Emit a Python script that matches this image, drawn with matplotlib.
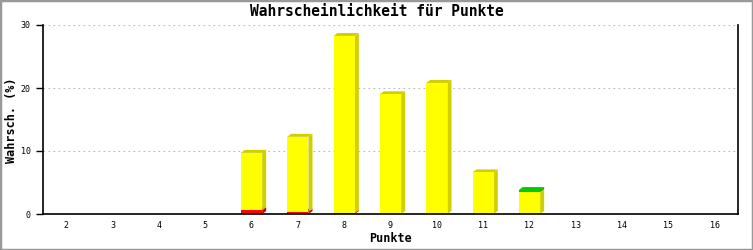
import matplotlib
matplotlib.use("Agg")
import matplotlib.pyplot as plt
from matplotlib.patches import Polygon, Rectangle
from matplotlib.transforms import IdentityTransform

categories = ["2", "3", "4", "5", "6", "7", "8", "9", "10", "11", "12", "13", "14", "15", "16"]
red_vals    = [0, 0, 0, 0, 0.6, 0.35, 0.15, 0, 0, 0, 0, 0, 0, 0, 0]
yellow_vals = [0, 0, 0, 0, 9.1, 11.9, 28.1, 19.0, 20.8, 6.6, 3.5, 0, 0, 0, 0]
green_vals  = [0, 0, 0, 0, 0, 0, 0, 0, 0, 0, 0.3, 0, 0, 0, 0]
yticks = [0, 10, 20, 30]

series = [
    (red_vals, "#FF0000", "#CC0000", "#CC0000"),
    (yellow_vals, "#FFFF00", "#D0D000", "#D0D000"),
    (green_vals, "#00CC00", "#00AA00", "#00CC00"),
]

W, H, DPI = 753, 250, 100
fig = plt.figure(figsize=(W / DPI, H / DPI), dpi=DPI)
ax = fig.add_axes([43 / W, 36 / H, 695 / W, 189 / H])

mono = "DejaVu Sans Mono"
x = list(range(len(categories)))
bw = 0.46
ax.set_xlim(-0.5, len(categories) - 0.5)
ax.set_ylim(0, 30)

ax.set_yticks(yticks)
ax.yaxis.grid(True, color="#BBBBBB", linestyle=(0, (1.5, 3)), linewidth=0.8)
ax.set_axisbelow(True)

DX, DY = 4, 3
fig.canvas.draw()
tr = ax.transData
ident = IdentityTransform()

bottoms = [0.0] * len(categories)
for k, (vals, front, side, topc) in enumerate(series):
    ax.bar(x, vals, width=bw, bottom=bottoms, color=front, edgecolor="none", zorder=5)
    for i, v in enumerate(vals):
        if v <= 0:
            continue
        b = bottoms[i]
        (x0, y0) = tr.transform((i - bw / 2, b))
        (x1, y1) = tr.transform((i + bw / 2, b + v))
        ax.add_patch(Polygon([(x1, y0), (x1 + DX, y0 + DY), (x1 + DX, y1 + DY), (x1, y1)],
                             closed=True, transform=ident, facecolor=side, edgecolor="none",
                             zorder=2 + k * 0.1, clip_on=False))
        ax.add_patch(Polygon([(x0, y1), (x0 + DX, y1 + DY), (x1 + DX, y1 + DY), (x1, y1)],
                             closed=True, transform=ident, facecolor=topc, edgecolor="none",
                             zorder=2 + k * 0.1, clip_on=False))
    bottoms = [bottoms[i] + vals[i] for i in range(len(vals))]

ax.set_xticks(x)
ax.set_xticklabels(categories, fontfamily=mono, fontsize=6)
ax.set_yticklabels([str(t) for t in yticks], fontfamily=mono, fontsize=6)
ax.tick_params(axis="x", length=0, pad=5)
ax.tick_params(axis="y", length=5, width=1, pad=4, direction="out")

for s in ["left", "right", "bottom"]:
    ax.spines[s].set_color("black")
    ax.spines[s].set_linewidth(1.2)
    ax.spines[s].set_zorder(6)
ax.spines["top"].set_visible(False)

fig.text(0.5, 1 - 12 / H, "Wahrscheinlichkeit für Punkte", ha="center", va="center",
         fontfamily=mono, fontweight="bold", fontsize=10.5)
fig.text(390.5 / W, 1 - 239 / H, "Punkte", ha="center", va="center",
         fontfamily=mono, fontweight="bold", fontsize=8.5)
fig.text(12 / W, 1 - 120 / H, "Wahrsch. (%)", ha="center", va="center", rotation=90,
         fontfamily=mono, fontweight="bold", fontsize=8.5)

fig.add_artist(Rectangle((0, 0), 1, 1, transform=fig.transFigure, fill=False,
                         edgecolor="#999999", linewidth=2.5))

fig.savefig("out.png", dpi=DPI)
